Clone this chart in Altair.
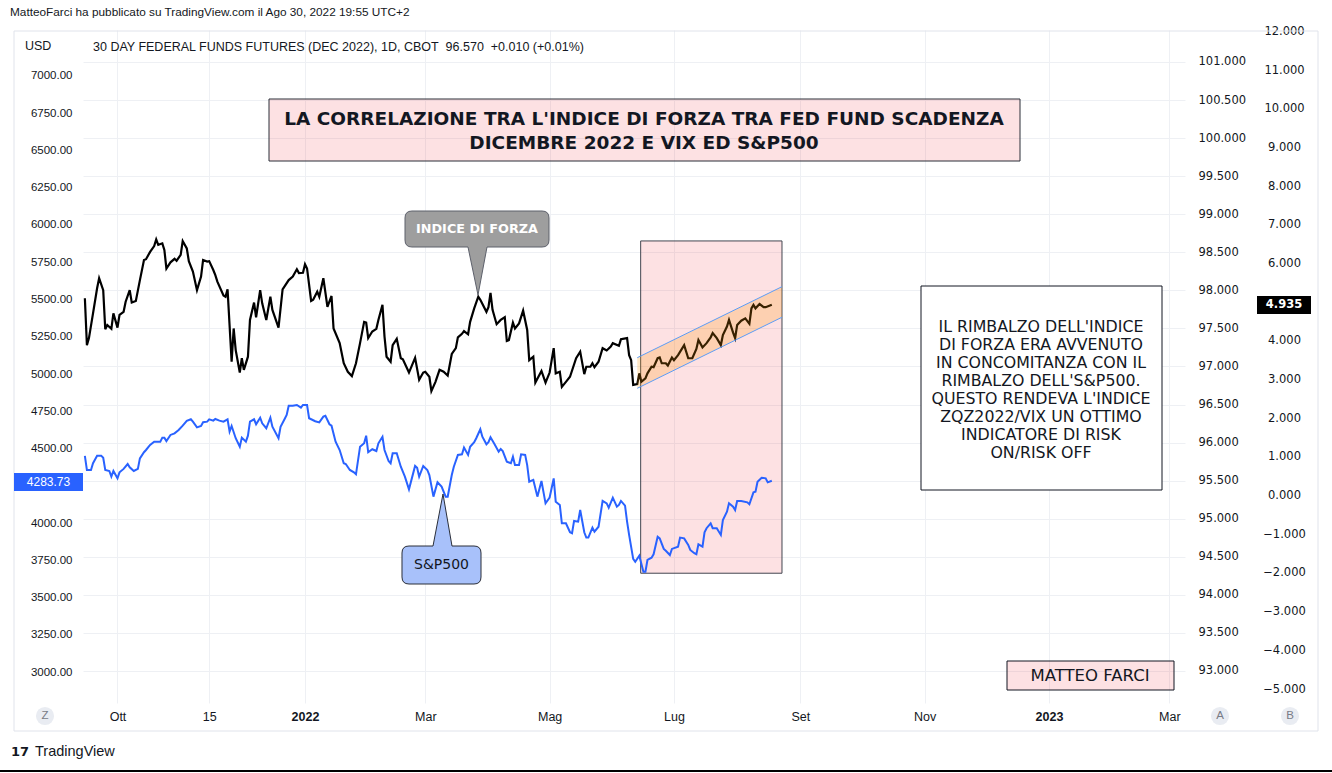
import altair as alt
import pandas as pd

# ---------------- data ----------------
forza_dates = [
    "2021-09-15", "2021-09-16", "2021-09-17", "2021-09-19", "2021-09-21", "2021-09-22", "2021-09-24", "2021-09-25",
    "2021-09-26", "2021-09-28", "2021-09-29", "2021-10-01", "2021-10-02", "2021-10-04", "2021-10-05", "2021-10-07",
    "2021-10-08", "2021-10-10", "2021-10-12", "2021-10-14", "2021-10-15", "2021-10-17", "2021-10-19", "2021-10-20",
    "2021-10-21", "2021-10-23", "2021-10-24", "2021-10-25", "2021-10-27", "2021-10-29", "2021-10-30", "2021-11-01",
    "2021-11-02", "2021-11-04", "2021-11-05", "2021-11-07", "2021-11-09", "2021-11-11", "2021-11-12", "2021-11-14",
    "2021-11-15", "2021-11-17", "2021-11-18", "2021-11-19", "2021-11-22", "2021-11-23", "2021-11-24", "2021-11-26",
    "2021-11-27", "2021-11-28", "2021-11-30", "2021-12-01", "2021-12-02", "2021-12-04", "2021-12-05", "2021-12-07",
    "2021-12-08", "2021-12-10", "2021-12-11", "2021-12-13", "2021-12-15", "2021-12-16", "2021-12-19", "2021-12-21",
    "2021-12-24", "2021-12-26", "2021-12-28", "2021-12-29", "2021-12-31", "2022-01-01", "2022-01-02", "2022-01-04",
    "2022-01-05", "2022-01-07", "2022-01-08", "2022-01-10", "2022-01-12", "2022-01-14", "2022-01-15", "2022-01-18",
    "2022-01-20", "2022-01-22", "2022-01-24", "2022-01-26", "2022-01-28", "2022-01-30", "2022-01-31", "2022-02-01",
    "2022-02-03", "2022-02-05", "2022-02-06", "2022-02-08", "2022-02-09", "2022-02-10", "2022-02-12", "2022-02-13",
    "2022-02-15", "2022-02-17", "2022-02-18", "2022-02-21", "2022-02-24", "2022-02-26", "2022-02-28", "2022-03-01",
    "2022-03-03", "2022-03-04", "2022-03-06", "2022-03-08", "2022-03-10", "2022-03-12", "2022-03-14", "2022-03-16",
    "2022-03-17", "2022-03-19", "2022-03-20", "2022-03-22", "2022-03-23", "2022-03-25", "2022-03-27", "2022-03-28",
    "2022-03-31", "2022-04-01", "2022-04-02", "2022-04-03", "2022-04-05", "2022-04-07", "2022-04-09", "2022-04-10",
    "2022-04-11", "2022-04-13", "2022-04-14", "2022-04-16", "2022-04-18", "2022-04-20", "2022-04-21", "2022-04-23",
    "2022-04-24", "2022-04-27", "2022-04-29", "2022-05-01", "2022-05-03", "2022-05-04", "2022-05-06", "2022-05-07",
    "2022-05-09", "2022-05-11", "2022-05-14", "2022-05-16", "2022-05-18", "2022-05-19", "2022-05-21", "2022-05-22",
    "2022-05-23", "2022-05-25", "2022-05-27", "2022-05-29", "2022-05-31", "2022-06-01", "2022-06-04", "2022-06-05",
    "2022-06-08", "2022-06-09", "2022-06-10", "2022-06-11", "2022-06-13", "2022-06-14", "2022-06-15", "2022-06-17",
    "2022-06-18", "2022-06-20", "2022-06-21", "2022-06-23", "2022-06-24", "2022-06-25", "2022-06-27", "2022-06-28",
    "2022-06-30", "2022-07-01", "2022-07-03", "2022-07-06", "2022-07-08", "2022-07-10", "2022-07-12", "2022-07-13",
    "2022-07-15", "2022-07-17", "2022-07-19", "2022-07-20", "2022-07-22", "2022-07-24", "2022-07-25", "2022-07-27",
    "2022-07-28", "2022-07-30", "2022-07-31", "2022-08-01", "2022-08-03", "2022-08-05", "2022-08-07", "2022-08-08",
    "2022-08-09", "2022-08-10", "2022-08-12", "2022-08-14", "2022-08-15", "2022-08-18",
]
forza_values = [
    5.10, 3.89, 4.07, 4.71, 5.36, 5.62, 5.31, 4.30, 4.41, 4.31, 4.71, 4.34, 4.67, 4.75, 5.01, 5.31,
    4.99, 5.03, 5.57, 6.09, 6.11, 6.30, 6.45, 6.62, 6.48, 6.52, 6.35, 5.87, 6.03, 6.12, 6.07, 6.22,
    6.58, 6.39, 6.06, 5.79, 5.31, 5.66, 6.09, 6.05, 6.06, 5.83, 5.70, 5.53, 5.17, 5.14, 5.33, 3.46,
    4.32, 3.76, 3.18, 3.55, 3.25, 3.59, 4.54, 4.99, 4.61, 5.31, 4.97, 4.54, 5.14, 4.80, 4.34, 5.33,
    5.57, 5.66, 5.85, 5.75, 5.76, 5.98, 5.87, 5.03, 5.06, 5.27, 5.14, 5.62, 4.88, 5.16, 4.32, 3.94,
    3.42, 3.20, 3.09, 3.42, 3.94, 4.49, 4.47, 4.07, 4.24, 4.31, 4.54, 4.93, 4.11, 3.59, 3.46, 3.89,
    4.05, 3.55, 3.52, 3.18, 3.56, 2.99, 3.18, 3.20, 3.07, 2.70, 2.94, 3.25, 3.20, 3.10, 3.66, 3.81,
    4.09, 4.18, 4.25, 4.17, 4.49, 4.84, 5.14, 5.06, 4.75, 4.87, 5.24, 4.80, 4.43, 4.54, 4.61, 4.00,
    4.02, 4.47, 4.32, 4.45, 4.78, 4.28, 3.50, 3.59, 2.92, 3.22, 2.92, 3.18, 3.81, 3.16, 3.20, 2.81,
    2.94, 3.07, 3.55, 3.72, 3.14, 3.33, 3.33, 3.42, 3.32, 3.46, 3.81, 3.75, 3.85, 3.94, 3.87, 4.04,
    4.07, 3.63, 3.50, 2.86, 2.88, 3.16, 2.94, 3.03, 3.16, 3.33, 3.32, 3.55, 3.57, 3.42, 3.42, 3.36,
    3.57, 3.50, 3.63, 3.89, 3.55, 3.55, 3.79, 4.02, 3.83, 3.94, 4.09, 4.20, 4.07, 3.89, 4.15, 4.37,
    4.54, 4.21, 4.07, 4.41, 4.52, 4.58, 4.44, 4.84, 4.93, 4.84, 4.95, 4.87, 4.87, 4.935,
]

spx_dates = [
    "2021-09-15", "2021-09-16", "2021-09-18", "2021-09-19", "2021-09-21", "2021-09-23", "2021-09-24", "2021-09-25",
    "2021-09-27", "2021-09-28", "2021-09-29", "2021-10-01", "2021-10-02", "2021-10-04", "2021-10-06", "2021-10-07",
    "2021-10-09", "2021-10-11", "2021-10-12", "2021-10-14", "2021-10-15", "2021-10-17", "2021-10-19", "2021-10-22",
    "2021-10-23", "2021-10-24", "2021-10-25", "2021-10-27", "2021-10-29", "2021-10-31", "2021-11-02", "2021-11-04",
    "2021-11-06", "2021-11-07", "2021-11-09", "2021-11-11", "2021-11-12", "2021-11-14", "2021-11-15", "2021-11-17",
    "2021-11-18", "2021-11-20", "2021-11-22", "2021-11-24", "2021-11-25", "2021-11-26", "2021-11-28", "2021-11-30",
    "2021-12-01", "2021-12-03", "2021-12-04", "2021-12-05", "2021-12-07", "2021-12-08", "2021-12-10", "2021-12-11",
    "2021-12-13", "2021-12-15", "2021-12-16", "2021-12-19", "2021-12-20", "2021-12-22", "2021-12-23", "2021-12-24",
    "2021-12-26", "2021-12-28", "2021-12-30", "2021-12-31", "2022-01-02", "2022-01-03", "2022-01-06", "2022-01-08",
    "2022-01-10", "2022-01-11", "2022-01-13", "2022-01-14", "2022-01-16", "2022-01-18", "2022-01-20", "2022-01-21",
    "2022-01-23", "2022-01-25", "2022-01-26", "2022-01-28", "2022-01-30", "2022-01-31", "2022-02-01", "2022-02-03",
    "2022-02-05", "2022-02-06", "2022-02-08", "2022-02-09", "2022-02-11", "2022-02-12", "2022-02-13", "2022-02-15",
    "2022-02-17", "2022-02-19", "2022-02-21", "2022-02-24", "2022-02-25", "2022-02-26", "2022-02-28", "2022-03-02",
    "2022-03-03", "2022-03-05", "2022-03-07", "2022-03-09", "2022-03-11", "2022-03-12", "2022-03-14", "2022-03-15",
    "2022-03-17", "2022-03-19", "2022-03-20", "2022-03-22", "2022-03-23", "2022-03-25", "2022-03-26", "2022-03-28",
    "2022-03-29", "2022-03-31", "2022-04-01", "2022-04-02", "2022-04-04", "2022-04-06", "2022-04-07", "2022-04-08",
    "2022-04-10", "2022-04-12", "2022-04-13", "2022-04-14", "2022-04-16", "2022-04-17", "2022-04-19", "2022-04-20",
    "2022-04-21", "2022-04-23", "2022-04-25", "2022-04-27", "2022-04-29", "2022-05-01", "2022-05-03", "2022-05-04",
    "2022-05-06", "2022-05-07", "2022-05-09", "2022-05-11", "2022-05-12", "2022-05-13", "2022-05-15", "2022-05-16",
    "2022-05-18", "2022-05-19", "2022-05-20", "2022-05-22", "2022-05-23", "2022-05-25", "2022-05-27", "2022-05-29",
    "2022-05-30", "2022-06-01", "2022-06-03", "2022-06-04", "2022-06-05", "2022-06-07", "2022-06-08", "2022-06-09",
    "2022-06-11", "2022-06-12", "2022-06-14", "2022-06-16", "2022-06-17", "2022-06-18", "2022-06-20", "2022-06-21",
    "2022-06-23", "2022-06-24", "2022-06-26", "2022-06-27", "2022-06-29", "2022-06-30", "2022-07-03", "2022-07-04",
    "2022-07-06", "2022-07-08", "2022-07-09", "2022-07-11", "2022-07-12", "2022-07-13", "2022-07-15", "2022-07-16",
    "2022-07-17", "2022-07-19", "2022-07-20", "2022-07-22", "2022-07-24", "2022-07-25", "2022-07-27", "2022-07-28",
    "2022-07-30", "2022-07-31", "2022-08-01", "2022-08-03", "2022-08-06", "2022-08-07", "2022-08-09", "2022-08-10",
    "2022-08-11", "2022-08-13", "2022-08-15", "2022-08-16", "2022-08-18",
]
spx_values = [
    4450, 4356, 4356, 4401, 4452, 4452, 4438, 4356, 4349, 4311, 4349, 4300, 4340, 4363, 4396, 4374,
    4349, 4363, 4434, 4475, 4490, 4524, 4546, 4546, 4573, 4573, 4550, 4591, 4602, 4624, 4653, 4685,
    4696, 4680, 4642, 4651, 4676, 4680, 4696, 4687, 4698, 4687, 4680, 4696, 4613, 4651, 4569, 4512,
    4573, 4546, 4586, 4680, 4696, 4663, 4707, 4669, 4636, 4707, 4646, 4569, 4646, 4698, 4725, 4787,
    4787, 4792, 4774, 4792, 4792, 4703, 4683, 4675, 4714, 4720, 4663, 4653, 4546, 4490, 4401, 4396,
    4356, 4340, 4327, 4512, 4535, 4586, 4475, 4495, 4483, 4535, 4579, 4490, 4416, 4401, 4468, 4468,
    4378, 4311, 4226, 4383, 4371, 4311, 4383, 4356, 4322, 4177, 4273, 4244, 4177, 4177, 4322, 4378,
    4457, 4461, 4506, 4457, 4512, 4542, 4569, 4629, 4579, 4528, 4542, 4575, 4528, 4479, 4497, 4483,
    4412, 4401, 4445, 4389, 4389, 4461, 4457, 4389, 4277, 4289, 4177, 4282, 4132, 4171, 4299, 4143,
    4121, 3998, 3998, 3938, 3931, 4014, 4009, 4087, 3938, 3902, 3902, 3969, 3942, 3975, 4148, 4132,
    4103, 4170, 4110, 4121, 4148, 4116, 4009, 3920, 3759, 3740, 3781, 3673, 3673, 3752, 3767, 3790,
    3908, 3897, 3826, 3814, 3785, 3826, 3841, 3902, 3897, 3853, 3819, 3797, 3790, 3857, 3841, 3938,
    3965, 3998, 3965, 3965, 3920, 4020, 4076, 4132, 4110, 4087, 4148, 4148, 4139, 4126, 4206, 4210,
    4277, 4304, 4300, 4273, 4283.73,
]

zq_last_date = ["2022-08-18"]
zq_last_value = [96.57]

spx_ticks = [3000, 3250, 3500, 3750, 4000, 4500, 4750, 5000, 5250, 5500, 5750, 6000, 6250, 6500, 6750, 7000]
zq_ticks = [93.0, 93.5, 94.0, 94.5, 95.0, 95.5, 96.0, 96.5, 97.0, 97.5, 98.0, 98.5, 99.0, 99.5, 100.0, 100.5, 101.0]
forza_ticks = [-5, -4, -3, -2, -1, 0, 1, 2, 3, 4, 6, 7, 8, 9, 10, 11, 12]

# analysis drawings (data units)
zone_start = ["2022-06-14T16:00:00"]
zone_end = ["2022-08-23T00:00:00"]
zone_top = [5893]
zone_bottom = [3663]
channel_dates = ["2022-06-13", "2022-08-23"]
channel_upper = [3.564, 5.40]
channel_lower = [2.773, 4.61]

# texts
header_text = "MatteoFarci ha pubblicato su TradingView.com il Ago 30, 2022 19:55 UTC+2"
series_text = "30 DAY FEDERAL FUNDS FUTURES (DEC 2022), 1D, CBOT\u00a0\u00a096.570\u00a0\u00a0+0.010 (+0.01%)"
title_lines = ["LA CORRELAZIONE TRA L'INDICE DI FORZA TRA FED FUND SCADENZA", "DICEMBRE 2022 E VIX ED S&P500"]
note_lines = ["IL RIMBALZO DELL'INDICE", "DI FORZA ERA AVVENUTO", "IN CONCOMITANZA CON IL",
              "RIMBALZO DELL'S&P500.", "QUESTO RENDEVA L'INDICE", "ZQZ2022/VIX UN OTTIMO",
              "INDICATORE DI RISK", "ON/RISK OFF"]

# ---------------- layout ----------------
L0, T0 = 83, 30          # plot origin in the page
W, H = 1102, 673         # plot area
NARROW = "'Liberation Sans Narrow', 'Liberation Sans', Arial, sans-serif"
WIDE = "DejaVu Sans"
INK = "#131722"


def px(x):
    return x - L0


def py(y):
    return y - T0


ONE = pd.DataFrame({"k": [0]})

x_scale = alt.Scale(domain=[alt.DateTime(year=2021, month=9, date=14, hours=2),
                            alt.DateTime(year=2023, month=3, date=8, hours=17)])
x_axis = alt.Axis(
    values=[alt.DateTime(year=2021, month=10, date=1), alt.DateTime(year=2021, month=11, date=15),
            alt.DateTime(year=2022, month=1, date=1), alt.DateTime(year=2022, month=3, date=1),
            alt.DateTime(year=2022, month=5, date=1), alt.DateTime(year=2022, month=7, date=1),
            alt.DateTime(year=2022, month=9, date=1), alt.DateTime(year=2022, month=11, date=1),
            alt.DateTime(year=2023, month=1, date=1), alt.DateTime(year=2023, month=3, date=1)],
    labelExpr="date(datum.value) == 15 ? '15' : month(datum.value) == 0 ? timeFormat(datum.value, '%Y') : "
              "['Gen','Feb','Mar','Apr','Mag','Giu','Lug','Ago','Set','Ott','Nov','Dic'][month(datum.value)]",
    labelFontWeight={"condition": {"test": "month(datum.value) == 0 && date(datum.value) == 1", "value": "bold"},
                     "value": "normal"},
    grid=True, gridColor="#eef0f4", domain=False, ticks=False, tickSize=0,
    labelFont=NARROW, labelFontSize=12.5, labelColor=INK, labelPadding=7,
    labelFlush=False, labelOverlap=False, title=None)


def X(field):
    return alt.X(field, type="temporal", scale=x_scale, axis=x_axis)


yL = alt.Scale(domain=[2792, 7308.7], nice=False, zero=False)
yA = alt.Scale(domain=[92.579, 101.42], nice=False, zero=False)
yB = alt.Scale(domain=[-5.361, 12.034], nice=False, zero=False)

left_axis = alt.Axis(orient="left", values=spx_ticks, format=".2f", grid=False, domain=False, ticks=False,
                     tickSize=0, labelPadding=11, labelFont=NARROW, labelFontSize=11.5, labelColor=INK,
                     labelOverlap=False, labelFlush=False, title=None)
a_axis = alt.Axis(orient="right", values=zq_ticks, format=".3f", grid=True, gridColor="#eef0f4", domain=False,
                  ticks=False, tickSize=0, labelPadding=13, labelFont=WIDE, labelFontSize=11.5, labelColor=INK,
                  labelOverlap=False, labelFlush=False, title=None)
b_axis = alt.Axis(orient="right", values=forza_ticks, format=".3f", grid=False, domain=False, ticks=False,
                  tickSize=0, labelPadding=99, labelAlign="center", labelFont=WIDE, labelFontSize=11.5,
                  labelColor=INK, labelOverlap=False, labelFlush=False, title=None)


def box(x0, y0, x1, y1, **kw):
    return alt.Chart(ONE).mark_rect(**kw).encode(
        x=alt.value(px(x0)), x2=alt.value(px(x1)), y=alt.value(py(y0)), y2=alt.value(py(y1)))


def label(s, x, y, size, color=INK, font=WIDE, weight="normal", align="center"):
    return alt.Chart(ONE).mark_text(text=s, fontSize=size, font=font, fontWeight=weight, color=color,
                                    align=align, baseline="middle").encode(x=alt.value(px(x)), y=alt.value(py(y)))


def callout(x0, y0, x1, y1, r, bl, br, ax, ay, side, fill, stroke):
    minx, maxx = min(x0, ax), max(x1, ax)
    miny, maxy = min(y0, ay), max(y1, ay)
    cx, cy = (minx + maxx) / 2, (miny + maxy) / 2
    h = max(maxx - minx, maxy - miny) / 2

    def f(x, y):
        return f"{(x - cx) / h:.4f} {(y - cy) / h:.4f}"

    c = [f"M {f(x0 + r, y0)}"]
    if side == "top":
        c += [f"L {f(bl, y0)}", f"L {f(ax, ay)}", f"L {f(br, y0)}"]
    c += [f"L {f(x1 - r, y0)}", f"Q {f(x1, y0)} {f(x1, y0 + r)}", f"L {f(x1, y1 - r)}",
          f"Q {f(x1, y1)} {f(x1 - r, y1)}"]
    if side == "bottom":
        c += [f"L {f(br, y1)}", f"L {f(ax, ay)}", f"L {f(bl, y1)}"]
    c += [f"L {f(x0 + r, y1)}", f"Q {f(x0, y1)} {f(x0, y1 - r)}", f"L {f(x0, y0 + r)}",
          f"Q {f(x0, y0)} {f(x0 + r, y0)}", "Z"]
    return alt.Chart(ONE).mark_point(shape=" ".join(c), size=(2 * h) ** 2, filled=True, fill=fill,
                                     stroke=stroke, strokeWidth=1, opacity=1).encode(
        x=alt.value(px(cx)), y=alt.value(py(cy)))


# ---------------- data frames ----------------
forza_df = pd.DataFrame({"date": pd.to_datetime(forza_dates), "value": forza_values})
spx_df = pd.DataFrame({"date": pd.to_datetime(spx_dates), "value": spx_values})
zq_df = pd.DataFrame({"date": pd.to_datetime(zq_last_date), "value": zq_last_value})
zone_df = pd.DataFrame({"start": pd.to_datetime(zone_start), "end": pd.to_datetime(zone_end),
                        "top": zone_top, "bottom": zone_bottom})
chan_df = pd.DataFrame({"date": pd.to_datetime(channel_dates), "upper": channel_upper, "lower": channel_lower})

layers = []

# outer frame and bottom rule
layers.append(box(14, 31, 1318, 731, filled=False, stroke="#e0e3eb", strokeWidth=1))
layers.append(alt.Chart(ONE).mark_rule(color="#000000", strokeWidth=2).encode(
    x=alt.value(px(0)), x2=alt.value(px(1332)), y=alt.value(py(771))))

# right scale A (main symbol) -> grid lines
layers.append(alt.Chart(zq_df).mark_point(opacity=0).encode(
    x=X("date"), y=alt.Y("value:Q", scale=yA, axis=a_axis)))

# pink zone
layers.append(alt.Chart(zone_df).mark_rect(fill="#f23645", fillOpacity=0.15, stroke="#434651",
                                           strokeWidth=1).encode(
    x=X("start"), x2="end", y=alt.Y("top:Q", scale=yL, axis=None), y2="bottom"))

# S&P500 line (left scale)
layers.append(alt.Chart(spx_df).mark_line(color="#2962ff", strokeWidth=2).encode(
    x=X("date"), y=alt.Y("value:Q", scale=yL, axis=left_axis)))

# index of strength (right scale B)
layers.append(alt.Chart(forza_df).mark_line(color="#000000", strokeWidth=2.2).encode(
    x=X("date"), y=alt.Y("value:Q", scale=yB, axis=b_axis)))

# rising channel
layers.append(alt.Chart(chan_df).mark_area(color="#ff9800", opacity=0.22).encode(
    x=X("date"), y=alt.Y("upper:Q", scale=yB, axis=None), y2="lower"))
layers.append(alt.Chart(chan_df).mark_line(color="#5b9cf6", strokeWidth=1).encode(
    x=X("date"), y=alt.Y("upper:Q", scale=yB, axis=None)))
layers.append(alt.Chart(chan_df).mark_line(color="#5b9cf6", strokeWidth=1).encode(
    x=X("date"), y=alt.Y("lower:Q", scale=yB, axis=None)))

# header texts
layers.append(label(header_text, 10, 12, 11.8, font=NARROW, align="left"))
layers.append(label("USD", 25, 46, 12.5, font=NARROW, align="left"))
layers.append(label(series_text, 93, 47, 12.5, font=NARROW, align="left"))

# title box
layers.append(box(269, 99, 1020, 161, fill="#f23645", fillOpacity=0.15, stroke="#2a2e39", strokeWidth=1))
layers.append(label(title_lines[0], 644, 119, 18.5, weight="bold"))
layers.append(label(title_lines[1], 644, 143, 18.5, weight="bold"))

# callouts
layers.append(callout(405, 211, 549, 247, 7, 468, 487, 478, 295, "bottom", "#9e9e9e", "#5d606b"))
layers.append(label("INDICE DI FORZA", 477, 229, 12.8, color="#ffffff", weight="bold"))
layers.append(callout(402, 546, 481, 584, 7, 433, 452, 443, 494, "top", "#a8c1fa", "#2a2e39"))
layers.append(label("S&P500", 441.5, 565, 14, color="#131722"))

# note box
layers.append(box(921, 286, 1162, 490, fill="#ffffff", stroke="#131722", strokeWidth=1))
for i, s in enumerate(note_lines):
    layers.append(label(s, 1041, 327 + 18 * i, 15.8))

# signature box
layers.append(box(1007, 661, 1174, 690, fill="#f23645", fillOpacity=0.15, stroke="#131722", strokeWidth=1))
layers.append(label("MATTEO FARCI", 1090, 676, 16.5))

# last value labels
layers.append(box(14, 473, 83, 491, fill="#2962ff"))
layers.append(label("4283.73", 48.5, 482, 12, color="#ffffff", font=NARROW))
layers.append(box(1257, 296, 1311, 314, fill="#000000"))
layers.append(label("4.935", 1284, 305, 11.5, color="#ffffff", weight="bold"))

# scale buttons
for s, cx in (("Z", 45), ("A", 1220), ("B", 1290)):
    layers.append(alt.Chart(ONE).mark_circle(size=330, color="#e9ecf2", opacity=1).encode(
        x=alt.value(px(cx)), y=alt.value(py(716))))
    layers.append(label(s, cx, 716, 11.5, color="#787b86", font=NARROW))

# TradingView footer
layers.append(label("17", 11, 752, 13, color="#131722", weight="bold", align="left"))
layers.append(label("TradingView", 35, 752, 14.5, font=NARROW, align="left"))

chart = alt.layer(*layers).resolve_scale(y="independent").properties(
    width=W, height=H,
    padding={"left": L0, "top": T0, "right": 1332 - L0 - W, "bottom": 773 - T0 - H},
    autosize=alt.AutoSizeParams(type="none"),
    background="white",
).configure_view(stroke=None)

chart.save("out.html", embed_options={"renderer": "svg", "actions": False})
